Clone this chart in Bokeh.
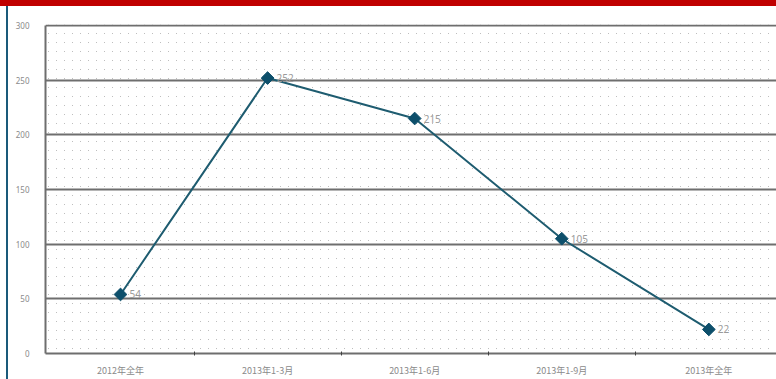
import math, zlib, struct, base64
from bokeh.plotting import figure
from bokeh.models import Range1d, FixedTicker, BoxAnnotation, ColumnDataSource, Div, ImageURLTexture
from bokeh.layouts import column, row
from bokeh.embed import file_html
from bokeh.resources import INLINE
from bokeh.core.properties import value

categories = ["2012年全年", "2013年1-3月", "2013年1-6月", "2013年1-9月", "2013年全年"]
values = [54, 252, 215, 105, 22]
value_labels = ["54", "252", "215", "105", "22"]
y_ticks = [0, 50, 100, 150, 200, 250, 300]

xs = list(range(len(categories)))
src = ColumnDataSource(dict(x=xs, y=values, lab=value_labels))


def dot_tile_png(w=8, h=9):
    rows = []
    for yy in range(h):
        line = b"\x00"
        for xx in range(w):
            if xx == 0 and yy == 0:
                line += bytes([190, 190, 190, 255])
            else:
                line += bytes([255, 255, 255, 0])
        rows.append(line)
    raw = b"".join(rows)

    def chunk(t, d):
        c = struct.pack(">I", len(d)) + t + d
        return c + struct.pack(">I", zlib.crc32(t + d) & 0xffffffff)

    png = b"\x89PNG\r\n\x1a\n" + chunk(b"IHDR", struct.pack(">IIBBBBB", w, h, 8, 6, 0, 0, 0)) \
        + chunk(b"IDAT", zlib.compress(raw)) + chunk(b"IEND", b"")
    return "data:image/png;base64," + base64.b64encode(png).decode()


p = figure(width=768, height=373, output_backend="svg", toolbar_location=None,
           x_range=Range1d(-0.51, 4.46), y_range=Range1d(0, 301),
           min_border_left=37, min_border_right=0, min_border_top=18, min_border_bottom=24,
           margin=(0, 0, 0, 0))
p.background_fill_color = "white"
p.border_fill_color = "white"
p.outline_line_color = None

# dotted texture over plot area
p.add_layout(BoxAnnotation(left=-1, right=6, bottom=-10, top=400, fill_color=None, line_color=None,
                           hatch_pattern="dots",
                           hatch_extra={"dots": ImageURLTexture(url=dot_tile_png())},
                           level="underlay"))

p.xgrid.grid_line_color = None
p.ygrid.ticker = FixedTicker(ticks=y_ticks)
p.ygrid.grid_line_color = "#6e6e6e"
p.ygrid.grid_line_width = 2

p.xaxis.ticker = FixedTicker(ticks=xs, minor_ticks=[0.5, 1.5, 2.5, 3.5])
p.xaxis.major_label_overrides = {i: c for i, c in enumerate(categories)}
p.xaxis.major_tick_line_color = None
p.xaxis.minor_tick_line_color = "#404040"
p.xaxis.minor_tick_in = 2
p.xaxis.minor_tick_out = 2
p.xaxis.axis_line_color = "#6e6e6e"
p.xaxis.axis_line_width = 2
p.xaxis.major_label_text_font = "Noto Sans CJK SC"
p.xaxis.major_label_text_font_size = "9px"
p.xaxis.major_label_text_color = "#8a8a8a"
p.xaxis.major_label_standoff = 4

p.yaxis.ticker = FixedTicker(ticks=y_ticks)
p.yaxis.bounds = (0, 300)
p.yaxis.major_tick_line_color = None
p.yaxis.minor_tick_line_color = None
p.yaxis.axis_line_color = "#6e6e6e"
p.yaxis.axis_line_width = 2
p.yaxis.major_label_text_font = "Noto Sans"
p.yaxis.major_label_text_font_size = "8px"
p.yaxis.major_label_text_color = "#8a8a8a"
p.yaxis.major_label_standoff = 10

p.line("x", "y", source=src, line_color="#1e5c70", line_width=2)
p.scatter("x", "y", source=src, marker="square", angle=math.pi / 4, size=9,
          fill_color="#0d4f6b", line_color="#0d4f6b")
p.text("x", "y", text="lab", source=src, x_offset=9, text_baseline="middle", text_align="left",
       text_font=value("Noto Sans"), text_font_size="10px", text_color="#9a9a9a")

red_bar = Div(width=776, height=6, margin=(0, 0, 0, 0), styles={"background-color": "#c00000"})
teal = Div(width=8, height=373, margin=(0, 0, 0, 0),
           styles={"background": "linear-gradient(to right, #ffffff 6px, #1a5a7a 6px)"})
layout = column(red_bar, row(teal, p, spacing=0, margin=(0, 0, 0, 0)), spacing=0, margin=(0, 0, 0, 0))

open("out.html", "w").write(file_html(layout, INLINE))
